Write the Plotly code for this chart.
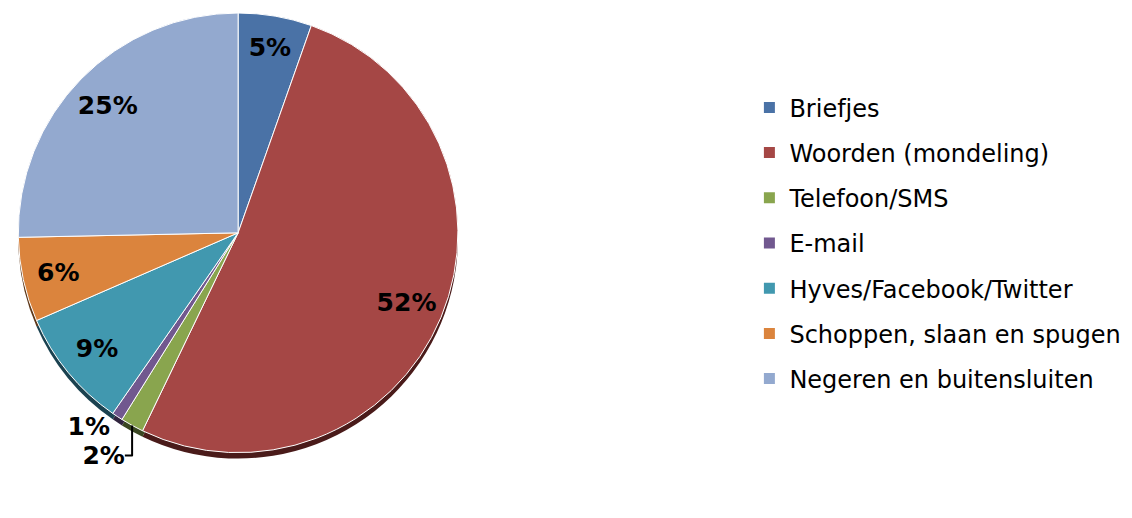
import plotly.graph_objects as go

labels = ["Briefjes", "Woorden (mondeling)", "Telefoon/SMS", "E-mail",
          "Hyves/Facebook/Twitter", "Schoppen, slaan en spugen", "Negeren en buitensluiten"]
values = [5.4, 51.7, 1.7, 0.8, 8.8, 6.2, 25.3]
colors = ["#4A72A6", "#A54745", "#89A54E", "#71588F", "#4198AF", "#DB843D", "#93A9CF"]
shadow_colors = ["#1F3048", "#4A1B1A", "#3A4722", "#31253F", "#1B4250", "#5E3819", "#3F4A5B"]
outside_pos = ["none", "none", "outside", "outside", "none", "none", "none"]
inside_pos = ["inside", "inside", "none", "none", "inside", "inside", "inside"]

# page body has an 8px margin; figure sized to fill the rest of the window
W, H = 1124, 510


def ydom(top_px, bot_px):
    return [(H - bot_px) / H, (H - top_px) / H]


xdom = [0, 449 / W]
label_font = dict(family="DejaVu Sans", size=25, color="black", weight="bold")

fig = go.Figure()

# shadow
fig.add_trace(go.Pie(
    labels=labels, values=values, sort=False, direction="clockwise", rotation=0,
    marker=dict(colors=shadow_colors, line=dict(width=0)),
    textposition="none", domain=dict(x=xdom, y=ydom(6, 450)),
    showlegend=False, hoverinfo="skip",
))

# main pie with outside labels for small slices
fig.add_trace(go.Pie(
    labels=labels, values=values, sort=False, direction="clockwise", rotation=0,
    marker=dict(colors=colors, line=dict(color="white", width=1)),
    texttemplate="%{percent:.0%}", textposition=outside_pos,
    textfont=label_font, outsidetextfont=label_font,
    domain=dict(x=xdom, y=ydom(0, 444)),
    showlegend=False, hoverinfo="label+percent",
))

# transparent ring used only to place inside labels toward the rim
fig.add_trace(go.Pie(
    labels=labels, values=values, sort=False, direction="clockwise", rotation=0,
    hole=0.66,
    marker=dict(colors=["rgba(0,0,0,0)"] * len(labels), line=dict(width=0)),
    texttemplate="%{percent:.0%}", textposition=inside_pos,
    insidetextfont=label_font, insidetextorientation="horizontal",
    domain=dict(x=xdom, y=ydom(0, 444)),
    showlegend=False, hoverinfo="skip",
))

for lab, col in zip(labels, colors):
    fig.add_trace(go.Scatter(
        x=[None], y=[None], mode="markers", name=lab, legendgroup=lab,
        marker=dict(symbol="square", size=11, color=col),
        showlegend=True, hoverinfo="skip",
    ))

fig.update_layout(
    width=W, height=H, margin=dict(l=0, r=0, t=0, b=0),
    paper_bgcolor="white", plot_bgcolor="white",
    xaxis=dict(visible=False), yaxis=dict(visible=False),
    legend=dict(x=739 / W, y=(H - 73) / H, xanchor="left", yanchor="top",
                font=dict(family="DejaVu Sans", size=24, color="black"),
                tracegroupgap=11, bgcolor="rgba(0,0,0,0)"),
)

fig.write_html("out.html")
